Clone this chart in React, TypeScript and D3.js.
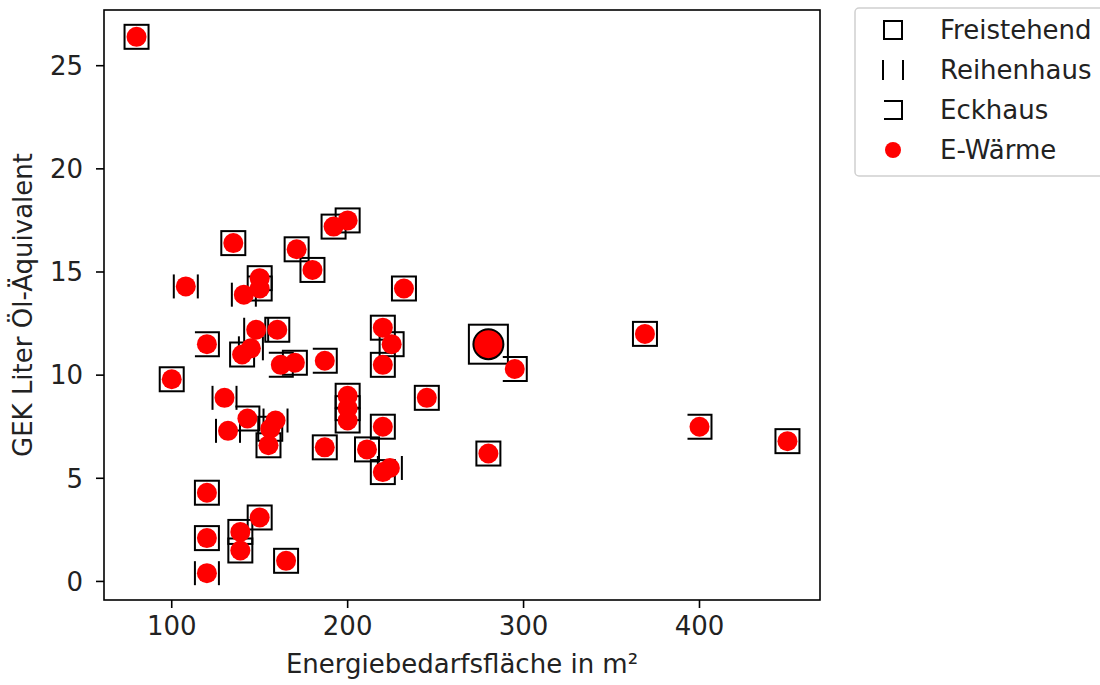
import React from 'react'
import * as d3 from 'd3'

// house types: F = Freistehend, R = Reihenhaus, E = Eckhaus
const freistehend: [number, number][] = [
  [80, 26.4], [100, 9.8], [135, 16.4], [171, 16.1], [180, 15.1], [192, 17.2], [200, 17.5],
  [232, 14.2], [150, 14.7], [160, 12.2], [140, 11.0], [170, 10.6], [220, 12.3], [225, 11.5],
  [220, 10.5], [200, 9.0], [200, 8.4], [200, 7.8], [245, 8.9], [220, 7.5], [187, 6.5],
  [211, 6.4], [220, 5.3], [155, 6.6], [156, 7.4], [280, 6.2], [369, 12.0], [450, 6.8],
  [120, 4.3], [120, 2.1], [139, 2.4], [139, 1.5], [150, 3.1], [165, 1.0],
]
const reihenhaus: [number, number][] = [
  [108, 14.3], [141, 13.9], [148, 12.2], [145, 11.3], [130, 8.9], [132, 7.3], [159, 7.8],
  [224, 5.5], [120, 0.4],
]
const eckhaus: [number, number][] = [
  [120, 11.5], [150, 14.2], [162, 10.5], [187, 10.7], [143, 7.9], [295, 10.3], [400, 7.5],
]
// highlighted point (bigger marker)
const highlight: [number, number][] = [[280, 11.5]]

const xTicks = [100, 200, 300, 400]
const yTicks = [0, 5, 10, 15, 20, 25]
const legendLabels = ['Freistehend', 'Reihenhaus', 'Eckhaus', 'E-Wärme']

const W = 1100
const H = 685
const M = { left: 104, right: 820, top: 10, bottom: 600 }
const FONT = 'DejaVu Sans, sans-serif'
const FS = 26

function pad([a, b]: number[]) {
  const d = (b - a) * 0.05
  return [a - d, b + d]
}

function Square({ x, y, s }: { x: number; y: number; s: number }) {
  return <rect x={x - s / 2} y={y - s / 2} width={s} height={s} fill="none" stroke="#000" strokeWidth={2} />
}
function Bars({ x, y, s }: { x: number; y: number; s: number }) {
  return (
    <g stroke="#000" strokeWidth={2}>
      <line x1={x - s / 2} x2={x - s / 2} y1={y - s / 2} y2={y + s / 2} />
      <line x1={x + s / 2} x2={x + s / 2} y1={y - s / 2} y2={y + s / 2} />
    </g>
  )
}
function Bracket({ x, y, s }: { x: number; y: number; s: number }) {
  const h = s / 2
  return (
    <path d={`M${x - h},${y - h}H${x + h}V${y + h}H${x - h}`} fill="none" stroke="#000" strokeWidth={2} />
  )
}

export default function App() {
  const all = [...freistehend, ...reihenhaus, ...eckhaus, ...highlight]
  const x = d3.scaleLinear().domain(pad(d3.extent(all, d => d[0]) as number[])).range([M.left, M.right])
  const y = d3.scaleLinear().domain(pad(d3.extent(all, d => d[1]) as number[])).range([M.bottom, M.top])

  const S = 24
  const R = 10

  return (
    <svg width={W} height={H} style={{ position: 'absolute', left: 0, top: 0, background: '#fff' }} fontFamily={FONT}>
      {/* house markers */}
      {freistehend.map((d, i) => <Square key={'f' + i} x={x(d[0])} y={y(d[1])} s={S} />)}
      {reihenhaus.map((d, i) => <Bars key={'r' + i} x={x(d[0])} y={y(d[1])} s={S} />)}
      {eckhaus.map((d, i) => <Bracket key={'e' + i} x={x(d[0])} y={y(d[1])} s={S} />)}
      {highlight.map((d, i) => <Square key={'h' + i} x={x(d[0])} y={y(d[1])} s={39} />)}
      {/* E-Wärme circles */}
      {[...freistehend, ...reihenhaus, ...eckhaus].map((d, i) => (
        <circle key={'c' + i} cx={x(d[0])} cy={y(d[1])} r={R} fill="#ff0000" />
      ))}
      {highlight.map((d, i) => (
        <circle key={'hc' + i} cx={x(d[0])} cy={y(d[1])} r={15} fill="#ff0000" stroke="#000" strokeWidth={2} />
      ))}

      {/* axes frame */}
      <rect x={M.left} y={M.top} width={M.right - M.left} height={M.bottom - M.top} fill="none" stroke="#000" strokeWidth={1.6} />
      {xTicks.map(t => (
        <g key={'xt' + t}>
          <line x1={x(t)} x2={x(t)} y1={M.bottom} y2={M.bottom + 8} stroke="#000" strokeWidth={1.6} />
          <text x={x(t)} y={M.bottom + 35} textAnchor="middle" fontSize={FS} fill="#222">{t}</text>
        </g>
      ))}
      {yTicks.map(t => (
        <g key={'yt' + t}>
          <line x1={M.left - 8} x2={M.left} y1={y(t)} y2={y(t)} stroke="#000" strokeWidth={1.6} />
          <text x={M.left - 21} y={y(t)} dy="0.36em" textAnchor="end" fontSize={FS} fill="#222">{t}</text>
        </g>
      ))}
      <text x={(M.left + M.right) / 2} y={673} textAnchor="middle" fontSize={FS} fill="#222">
        Energiebedarfsfläche in m²
      </text>
      <text transform={`translate(32,${(M.top + M.bottom) / 2}) rotate(-90)`} textAnchor="middle" fontSize={FS} fill="#222">
        GEK Liter Öl-Äquivalent
      </text>

      {/* legend */}
      <rect x={855} y={8} width={260} height={168} rx={4} fill="#fff" stroke="#d0d0d0" strokeWidth={1.5} />
      {legendLabels.map((l, i) => {
        const cy = 30 + i * 40
        return (
          <g key={l}>
            {i === 0 && <Square x={893} y={cy} s={18} />}
            {i === 1 && <Bars x={893} y={cy} s={20} />}
            {i === 2 && <Bracket x={893} y={cy} s={18} />}
            {i === 3 && <circle cx={893} cy={cy} r={8} fill="#ff0000" />}
            <text x={940} y={cy} dy="0.36em" fontSize={FS} fill="#222">{l}</text>
          </g>
        )
      })}
    </svg>
  )
}
